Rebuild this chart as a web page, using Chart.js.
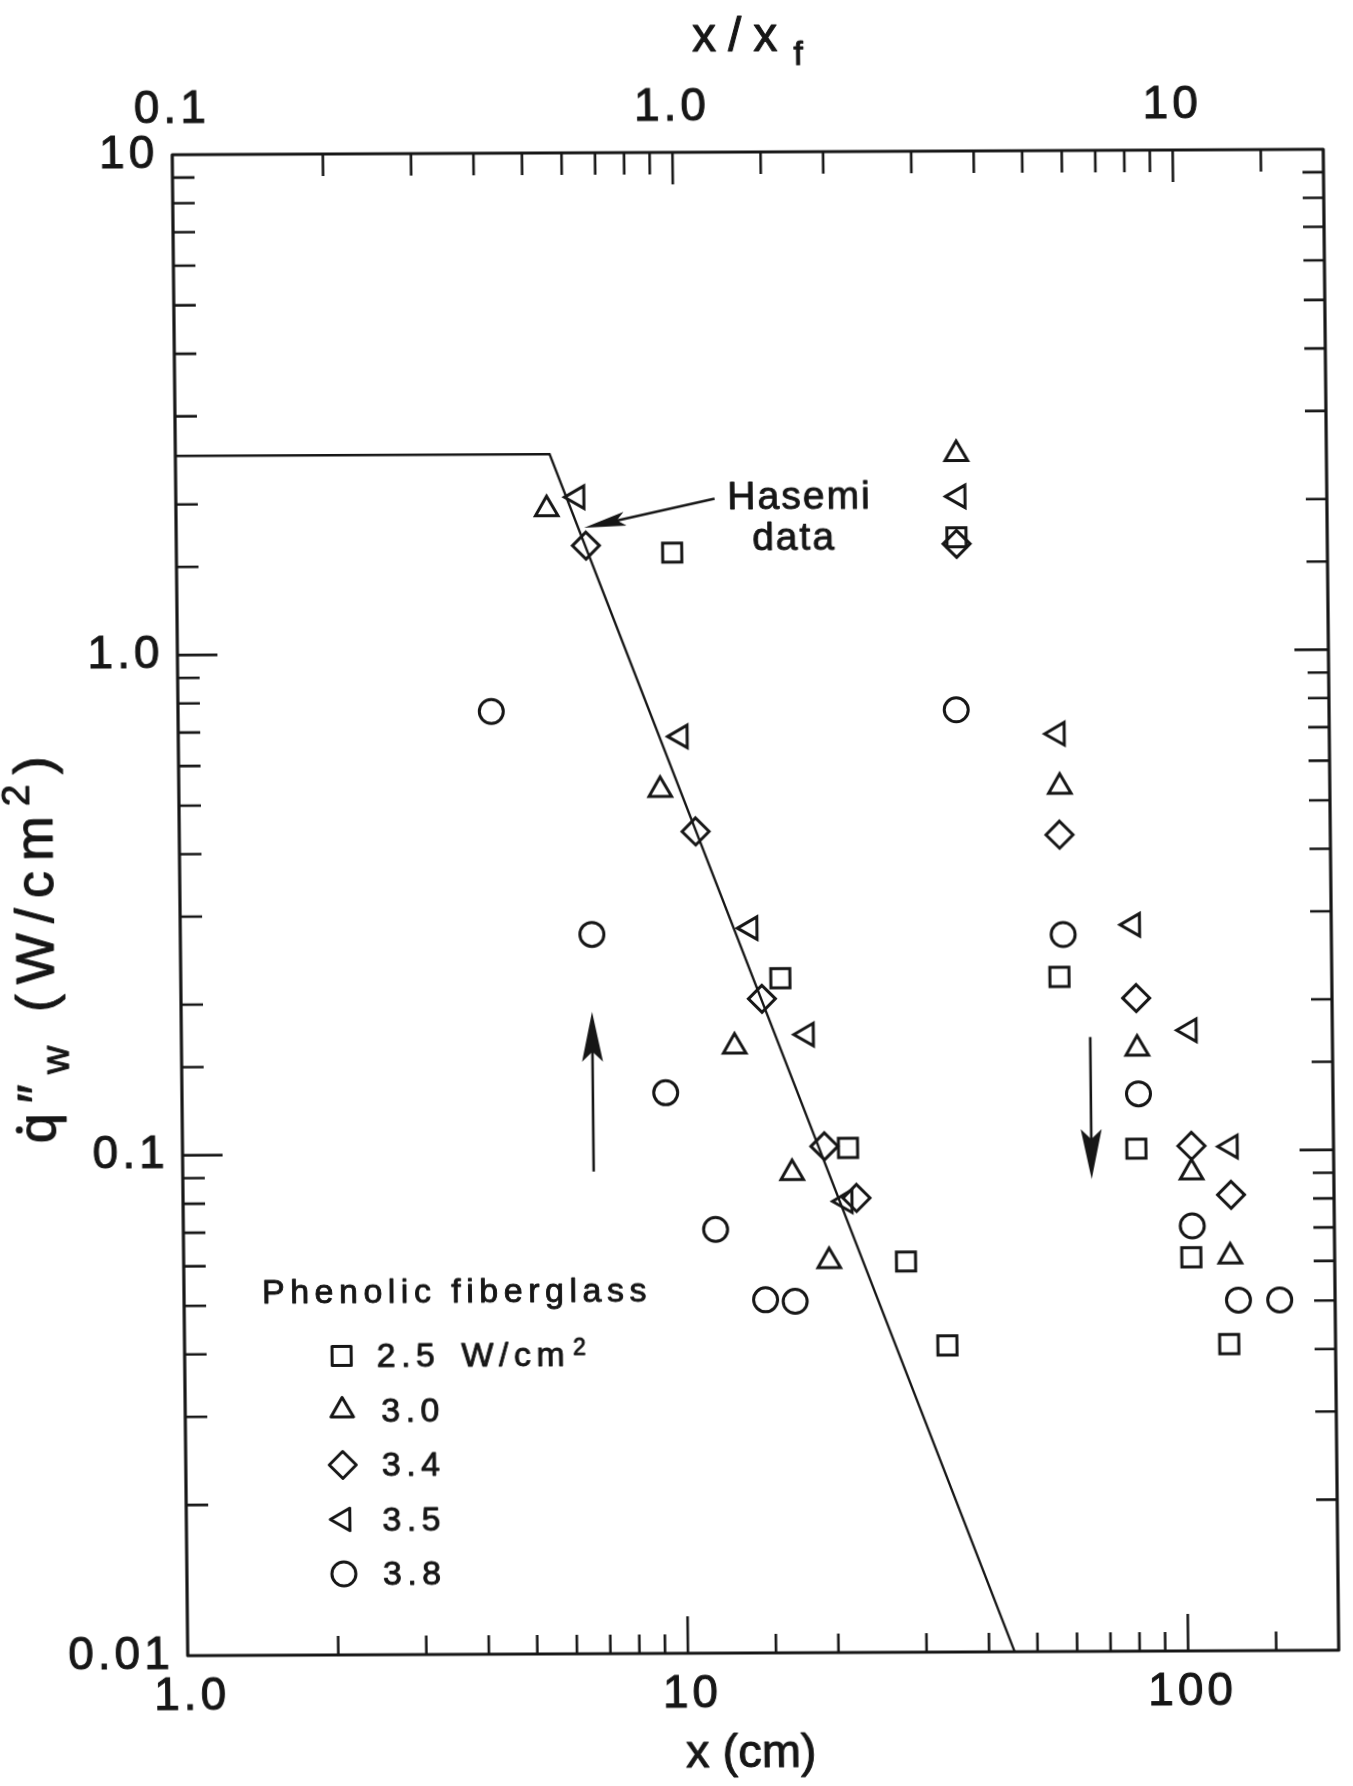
<!DOCTYPE html>
<html lang="en">
<head>
<meta charset="utf-8">
<title>Wall heat flux, phenolic fiberglass</title>
<script src="https://cdn.jsdelivr.net/npm/chart.js@4.4.1/dist/chart.umd.min.js"></script>
<style>
  html, body { margin: 0; padding: 0; background: #fff; }
  #frame { position: relative; width: 1353px; height: 1786px; overflow: hidden; background: #fff; }
  #plot { position: absolute; left: 0; top: 0; transform-origin: 761px 902.5px; transform: matrix(1, -0.00473, 0.01032, 1, 0, 0); }
</style>
</head>
<body>
<div id="frame"><canvas id="plot" width="1353" height="1786"></canvas></div>
<script>
const FONT = "'Liberation Sans', Arial, Helvetica, sans-serif";
const INK = '#161616';

// Wall heat flux q''_w (W/cm^2) against height x (cm), one pair of arrays per imposed flux
const flux25X = [9.8, 36.3, 15.8, 21.4, 27.8, 33.5, 57.1, 80.7, 103.4, 122.6];
const flux25Y = [1.585, 1.69, 0.223, 0.102, 0.0604, 0.041, 0.223, 0.101, 0.0612, 0.041];
const flux30X = [5.51, 36.4, 9.17, 12.76, 16.53, 19.52, 57.7, 81.4, 103.9, 123.7];
const flux30Y = [1.94, 2.48, 0.532, 0.163, 0.091, 0.0606, 0.535, 0.160, 0.0904, 0.0614];
const flux34X = [6.59, 36.3, 10.77, 14.5, 19.2, 22.2, 57.5, 81.2, 104.0, 124.5];
const flux34Y = [1.64, 1.64, 0.439, 0.203, 0.1028, 0.081, 0.429, 0.202, 0.1022, 0.0815];
const flux35X = [6.35, 36.7, 10.1, 13.8, 17.8, 21.1, 57.3, 80.3, 103.7, 124.6];
const flux35Y = [2.05, 2.04, 0.680, 0.281, 0.172, 0.0798, 0.683, 0.283, 0.174, 0.1018];
const flux38X = [4.23, 6.65, 35.96, 9.27, 11.59, 14.54, 16.66, 58.2, 81.7, 104.0, 128.2, 155.0];
const flux38Y = [0.766, 0.274, 0.764, 0.132, 0.0703, 0.0508, 0.0504, 0.271, 0.130, 0.0707, 0.0502, 0.0502];

const seriesNames = ['2.5', '3.0', '3.4', '3.5', '3.8'];
const legendTitle = 'Phenolic fiberglass';

// Hasemi correlation: plateau, then power-law decay
const hasemiX = [1, 5.6, 45];
const hasemiY = [2.5, 2.5, 0.01];

// Tick labels
const xTickValues = [1, 10, 100];
const xTickLabels = ['1.0', '10', '100'];
const xfTickValues = [0.1, 1, 10];
const xfTickLabels = ['0.1', '1.0', '10'];
const yTickValues = [0.01, 0.1, 1, 10];
const yTickLabels = ['0.01', '0.1', '1.0', '10'];

// Annotation anchors, in data units [x, q'']
const hasemiArrowTail = [11.94, 2.03];
const hasemiArrowTip = [6.54, 1.78];
const hasemiWordAt = [12.67, 1.93];
const dataWordAt = [14.17, 1.60];
const riseArrowX = 6.63;
const riseArrowY = [0.092, 0.192];
const fallArrowX = 65.6;
const fallArrowY = [0.169, 0.0879];

const seriesX = [flux25X, flux30X, flux34X, flux35X, flux38X];
const seriesY = [flux25Y, flux30Y, flux34Y, flux35Y, flux38Y];
const markerSpecs = [
  { pointStyle: 'rect', radius: 13.5, rotation: 0 },
  { pointStyle: 'triangle', radius: 13, rotation: 0 },
  { pointStyle: 'rectRot', radius: 13.5, rotation: 0 },
  { pointStyle: 'triangle', radius: 13, rotation: -90 },
  { pointStyle: 'circle', radius: 12, rotation: 0 },
];

function zip(xs, ys) { return xs.map((x, i) => ({ x: x, y: ys[i] })); }
function pickLabel(value, values, labels) {
  const i = values.findIndex(v => Math.abs(Math.log10(v) - Math.log10(value)) < 1e-6);
  return i >= 0 ? labels[i] : '';
}
function isDecade(v) {
  const l = Math.log10(v);
  return Math.abs(l - Math.round(l)) < 1e-6;
}

function markerPath(ctx, spec, x, y) {
  const r = spec.radius;
  let a = (spec.rotation || 0) * Math.PI / 180;
  ctx.beginPath();
  if (spec.pointStyle === 'rect') {
    const s = r * Math.SQRT1_2;
    ctx.rect(x - s, y - s, 2 * s, 2 * s);
  } else if (spec.pointStyle === 'rectRot') {
    ctx.moveTo(x - r, y); ctx.lineTo(x, y - r); ctx.lineTo(x + r, y); ctx.lineTo(x, y + r);
    ctx.closePath();
  } else if (spec.pointStyle === 'triangle') {
    ctx.moveTo(x + Math.sin(a) * r, y - Math.cos(a) * r);
    for (let k = 0; k < 2; k++) {
      a += 2 * Math.PI / 3;
      ctx.lineTo(x + Math.sin(a) * r, y - Math.cos(a) * r);
    }
    ctx.closePath();
  } else {
    ctx.arc(x, y, r, 0, 2 * Math.PI);
  }
}

function arrow(ctx, x1, y1, x2, y2, headLen, halfW, lw) {
  const ang = Math.atan2(y2 - y1, x2 - x1);
  const ux = Math.cos(ang), uy = Math.sin(ang);
  const bx = x2 - ux * headLen, by = y2 - uy * headLen;
  ctx.lineWidth = lw;
  ctx.beginPath();
  ctx.moveTo(x1, y1);
  ctx.lineTo(x2 - ux * headLen * 0.6, y2 - uy * headLen * 0.6);
  ctx.stroke();
  ctx.beginPath();
  ctx.moveTo(x2, y2);
  ctx.lineTo(bx - uy * halfW, by + ux * halfW);
  ctx.lineTo(x2 - ux * headLen * 0.8, y2 - uy * headLen * 0.8);
  ctx.lineTo(bx + uy * halfW, by - ux * halfW);
  ctx.closePath();
  ctx.fill();
}

// Filled text with a thin outline so the strokes read as heavy as printed lettering
function inkText(ctx, text, x, y) {
  ctx.fillText(text, x, y);
  ctx.strokeText(text, x, y);
}

// Draws a run of text pieces along one baseline (for sub/superscripts)
function drawRuns(ctx, runs, x, y) {
  let cx = x;
  runs.forEach(r => {
    ctx.font = r.size + 'px ' + FONT;
    ctx.letterSpacing = (r.spacing || 0) + 'px';
    cx += r.dx || 0;
    inkText(ctx, r.text, cx, y + (r.dy || 0));
    cx += ctx.measureText(r.text).width;
  });
  return cx;
}

const decorations = {
  id: 'decorations',
  beforeDraw(chart) {
    chart.ctx.letterSpacing = '4px';
  },
  afterDraw(chart) {
    const { ctx, chartArea: a, scales } = chart;
    const xs = scales.x, xt = scales.x2, ys = scales.y;
    ctx.save();
    ctx.strokeStyle = INK;
    ctx.fillStyle = INK;
    ctx.lineCap = 'butt';
    ctx.lineJoin = 'round';

    // inward tick marks on all four sides
    const inside = (p, lo, hi) => p > lo + 3 && p < hi - 3;
    ctx.lineWidth = 2.6;
    ctx.beginPath();
    xs.ticks.forEach(t => {
      const p = xs.getPixelForValue(t.value);
      if (!inside(p, a.left, a.right)) return;
      const L = isDecade(t.value) ? 37 : 19;
      ctx.moveTo(p, a.bottom); ctx.lineTo(p, a.bottom - L);
    });
    xt.ticks.forEach(t => {
      const p = xt.getPixelForValue(t.value);
      if (!inside(p, a.left, a.right)) return;
      const L = isDecade(t.value) ? 32 : 22;
      ctx.moveTo(p, a.top); ctx.lineTo(p, a.top + L);
    });
    ys.ticks.forEach(t => {
      const p = ys.getPixelForValue(t.value);
      if (!inside(p, a.top, a.bottom)) return;
      const major = isDecade(t.value);
      ctx.moveTo(a.left, p); ctx.lineTo(a.left + (major ? 40 : 22), p);
      ctx.moveTo(a.right, p); ctx.lineTo(a.right - (major ? 34 : 21), p);
    });
    ctx.stroke();

    // plot frame
    ctx.lineWidth = 3.2;
    ctx.strokeRect(a.left, a.top, a.right - a.left, a.bottom - a.top);

    ctx.textAlign = 'left';
    ctx.textBaseline = 'alphabetic';

    // Hasemi label and pointer
    ctx.lineWidth = 0.9;
    ctx.font = '39px ' + FONT;
    ctx.letterSpacing = '2px';
    inkText(ctx, 'Hasemi', xs.getPixelForValue(hasemiWordAt[0]), ys.getPixelForValue(hasemiWordAt[1]));
    inkText(ctx, 'data', xs.getPixelForValue(dataWordAt[0]), ys.getPixelForValue(dataWordAt[1]));
    arrow(ctx,
      xs.getPixelForValue(hasemiArrowTail[0]), ys.getPixelForValue(hasemiArrowTail[1]),
      xs.getPixelForValue(hasemiArrowTip[0]), ys.getPixelForValue(hasemiArrowTip[1]),
      42, 7, 2.6);

    // trend arrows
    const rx = xs.getPixelForValue(riseArrowX);
    arrow(ctx, rx, ys.getPixelForValue(riseArrowY[0]), rx, ys.getPixelForValue(riseArrowY[1]), 50, 10.5, 2.6);
    const fx = xs.getPixelForValue(fallArrowX);
    arrow(ctx, fx, ys.getPixelForValue(fallArrowY[0]), fx, ys.getPixelForValue(fallArrowY[1]), 50, 10.5, 2.6);

    // legend block
    ctx.lineWidth = 0.9;
    ctx.font = '34px ' + FONT;
    ctx.letterSpacing = '5.5px';
    inkText(ctx, legendTitle, a.left + 78, a.bottom - 352);
    seriesNames.forEach((name, i) => {
      const cy = a.bottom - 299 + i * 54.5;
      ctx.lineWidth = 3;
      markerPath(ctx, markerSpecs[i], a.left + 157, cy);
      ctx.stroke();
      ctx.lineWidth = 0.9;
      if (i === 0) {
        drawRuns(ctx, [
          { text: name, size: 34, spacing: 5.5 },
          { text: 'W/cm', size: 34, spacing: 5.5, dx: 21 },
          { text: '2', size: 23, spacing: 0, dx: 3, dy: -11 },
        ], a.left + 192, cy + 11);
      } else {
        drawRuns(ctx, [{ text: name, size: 34, spacing: 5.5 }], a.left + 196, cy + 11);
      }
    });

    // top axis title x/x_f
    ctx.lineWidth = 1;
    drawRuns(ctx, [
      { text: 'x/x', size: 48, spacing: 12 },
      { text: 'f', size: 34, spacing: 0, dx: 4, dy: 14 },
    ], a.left + 521, a.top - 101);

    // bottom axis title
    ctx.font = '47px ' + FONT;
    ctx.letterSpacing = '0px';
    ctx.textAlign = 'center';
    inkText(ctx, 'x (cm)', (a.left + a.right) / 2 - 13, a.bottom + 114);
    ctx.textAlign = 'left';

    // left axis title, rotated to read upwards
    ctx.save();
    ctx.translate(53, 1140);
    ctx.rotate(-Math.PI / 2);
    ctx.font = '54px ' + FONT;
    ctx.letterSpacing = '0px';
    const qw = ctx.measureText('q').width;
    ctx.beginPath();
    ctx.arc(qw * 0.45, -36, 3.5, 0, 2 * Math.PI);
    ctx.fill();
    drawRuns(ctx, [
      { text: 'q', size: 54, spacing: 10 },
      { text: '\u2033', size: 54, spacing: 10 },
      { text: 'w', size: 39, spacing: 10, dy: 14 },
      { text: '(W/cm', size: 54, spacing: 10, dx: 24 },
      { text: '2', size: 39, spacing: 10, dy: -23 },
      { text: ')', size: 54, spacing: 0 },
    ], 0, 0);
    ctx.restore();

    ctx.restore();
  }
};

const datasets = seriesNames.map((name, i) => ({
  label: name,
  data: zip(seriesX[i], seriesY[i]),
  pointStyle: markerSpecs[i].pointStyle,
  pointRadius: markerSpecs[i].radius,
  pointRotation: markerSpecs[i].rotation,
  pointBorderWidth: 3,
  pointBorderColor: INK,
  pointBackgroundColor: 'rgba(0,0,0,0)',
  showLine: false,
}));
datasets.push({
  label: 'Hasemi',
  data: zip(hasemiX, hasemiY),
  showLine: true,
  borderColor: INK,
  borderWidth: 2.3,
  pointRadius: 0,
  fill: false,
  tension: 0,
});

const tickFont = { family: FONT, size: 46, lineHeight: 1 };
const tickStyle = { autoSkip: false, maxRotation: 0, color: INK, font: tickFont, textStrokeWidth: 1, textStrokeColor: INK };

new Chart(document.getElementById('plot'), {
  type: 'scatter',
  data: { datasets: datasets },
  options: {
    responsive: false,
    animation: false,
    events: [],
    layout: { padding: { left: 0, right: 11, top: 0, bottom: 0 } },
    plugins: { legend: { display: false }, tooltip: { enabled: false } },
    scales: {
      x: {
        type: 'logarithmic', position: 'bottom', min: 1, max: 200,
        grid: { display: false, drawTicks: false }, border: { display: false },
        ticks: Object.assign({ padding: 18, labelOffset: 4, callback: v => pickLabel(v, xTickValues, xTickLabels) }, tickStyle),
        afterFit: s => { s.height = 133; },
      },
      x2: {
        type: 'logarithmic', position: 'top', min: 0.1, max: 20,
        grid: { display: false, drawTicks: false }, border: { display: false },
        ticks: Object.assign({ padding: 22, callback: v => pickLabel(v, xfTickValues, xfTickLabels) }, tickStyle),
        afterFit: s => { s.height = 152; },
      },
      y: {
        type: 'logarithmic', position: 'left', min: 0.01, max: 10,
        grid: { display: false, drawTicks: false }, border: { display: false },
        ticks: Object.assign({ padding: 14, callback: v => pickLabel(v, yTickValues, yTickLabels) }, tickStyle),
        afterFit: s => { s.width = 180; },
      },
    },
  },
  plugins: [decorations],
});
</script>
</body>
</html>
